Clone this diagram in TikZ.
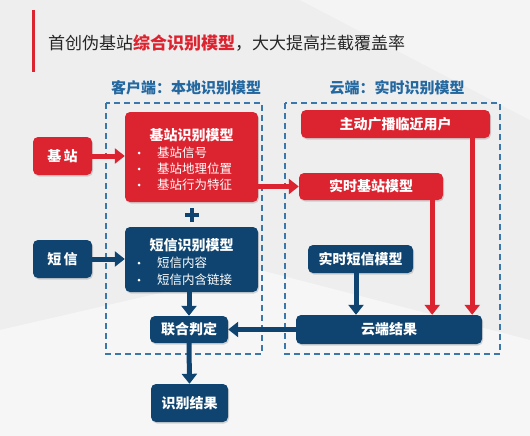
\documentclass[tikz,border=0pt]{standalone}
\usepackage{fontspec}
\setmainfont{Noto Sans CJK SC}
\usetikzlibrary{arrows.meta,shadows}
\definecolor{cred}{HTML}{DC2430}
\definecolor{cblue}{HTML}{0F4470}
\definecolor{chead}{HTML}{2468A0}
\definecolor{cdash}{HTML}{3A78AC}
\definecolor{bgc}{HTML}{EEEEEF}
\begin{document}
\begin{tikzpicture}[x=1pt,y=-1pt,
  box/.style={rounded corners=5pt, draw=none, inner sep=0pt,
    drop shadow={opacity=0.3,shadow xshift=1pt,shadow yshift=-1.5pt}},
  redbox/.style={box, fill=cred},
  bluebox/.style={box, fill=cblue},
  lbl/.style={text=white, font=\fontsize{14}{16}\selectfont\bfseries},
  item/.style={text=white, font=\fontsize{12.5}{14}\selectfont, anchor=west, inner sep=0pt},
  bul/.style={circle, fill=white, inner sep=0pt, minimum size=3pt},
  arr/.style={line width=5pt, -{Triangle[length=10pt,width=15pt]}},
  dbox/.style={draw=cdash, line width=1.5pt, dash pattern=on 6pt off 4pt},
  head/.style={font=\fontsize{15}{17}\selectfont\bfseries, text=chead}
]
\useasboundingbox (0,0) rectangle (530,436);
\fill[bgc] (0,0) rectangle (530,436);
\fill[white,opacity=0.5] (0,330) -- (260,270) -- (530,340) -- (530,436) -- (0,436) -- cycle;
\fill[white,opacity=0.4] (300,0) -- (530,0) -- (530,120) -- cycle;
% title
\fill[cred] (32,10) rectangle (35,72);
\node[anchor=west, inner sep=0pt, font=\fontsize{17}{20}\selectfont, text=black!85] (title) at (48,43)
  {首创伪基站\textcolor{cred}{\bfseries 综合识别模型}，大大提高拦截覆盖率};
% headers
\node[head] (h1) at (186,88) {客户端：本地识别模型};
\node[head] (h2) at (397,88) {云端：实时识别模型};
% dashed frames
\draw[dbox] (106,103) rectangle (262,354);
\draw[dbox] (285,103) rectangle (500,354);
% left nodes
\node[redbox, lbl, minimum width=59pt, minimum height=38pt] (bs) at (62.5,156) {基\,站};
\node[bluebox, lbl, minimum width=59pt, minimum height=38pt] (dx) at (62.5,259) {短\,信};
% red model box
\node[redbox, minimum width=133pt, minimum height=90pt] (bsm) at (191.5,157) {};
\node[lbl, inner sep=0pt] (bsmt) at (191.5,135) {基站识别模型};
\node[bul] (b1) at (139,153) {};
\node[bul] (b2) at (139,169) {};
\node[bul] (b3) at (139,185) {};
\node[item] (i1) at (157,153) {基站信号};
\node[item] (i2) at (157,169) {基站地理位置};
\node[item] (i3) at (157,185) {基站行为特征};
% plus
\draw[cblue, line width=4pt] (185,215) -- (199,215);
\draw[cblue, line width=4pt] (192,208) -- (192,222);
% blue model box
\node[bluebox, minimum width=133pt, minimum height=65pt] (dxm) at (191.5,259.5) {};
\node[lbl, inner sep=0pt] (dxmt) at (191.5,245) {短信识别模型};
\node[bul] (b4) at (139,263) {};
\node[bul] (b5) at (139,280) {};
\node[item] (i4) at (157,263) {短信内容};
\node[item] (i5) at (157,280) {短信内含链接};
% lower left
\node[bluebox, lbl, minimum width=78pt, minimum height=27pt] (lh) at (189,329.5) {联合判定};
\node[bluebox, lbl, minimum width=77pt, minimum height=38pt] (res) at (189.5,403) {识别结果};
% cloud
\node[redbox, lbl, minimum width=189pt, minimum height=28pt] (zd) at (395.5,124) {主动广播临近用户};
\node[redbox, lbl, minimum width=144pt, minimum height=27pt] (ssjz) at (371,186.5) {实时基站模型};
\node[bluebox, lbl, minimum width=105pt, minimum height=28pt] (ssdx) at (360.5,259) {实时短信模型};
\node[bluebox, lbl, minimum width=186pt, minimum height=29pt] (yr) at (389,329.5) {云端结果};
% arrows
\draw[arr, cred] (bs.east) -- (bs.east -| bsm.west);
\draw[arr, cblue] (dx.east) -- (dx.east -| dxm.west);
\draw[arr, cred] (ssjz.west -| bsm.east) -- (ssjz.west);
\draw[arr, cblue] (lh.north |- dxm.south) -- (lh.north);
\draw[arr, cblue] (lh.south) -- (res.north);
\draw[arr, cblue] (yr.west) -- (lh.east);
\draw[arr, cblue] ([xshift=-4.5pt]ssdx.south) -- ([xshift=-4.5pt]ssdx.south |- yr.north);
\draw[arr, cred] ([xshift=-11pt]ssjz.south east) -- ([xshift=-11pt]ssjz.south east |- yr.north);
\draw[arr, cred] ([xshift=-18pt]zd.south east) -- ([xshift=-18pt]zd.south east |- yr.north);
\end{tikzpicture}
\end{document}
